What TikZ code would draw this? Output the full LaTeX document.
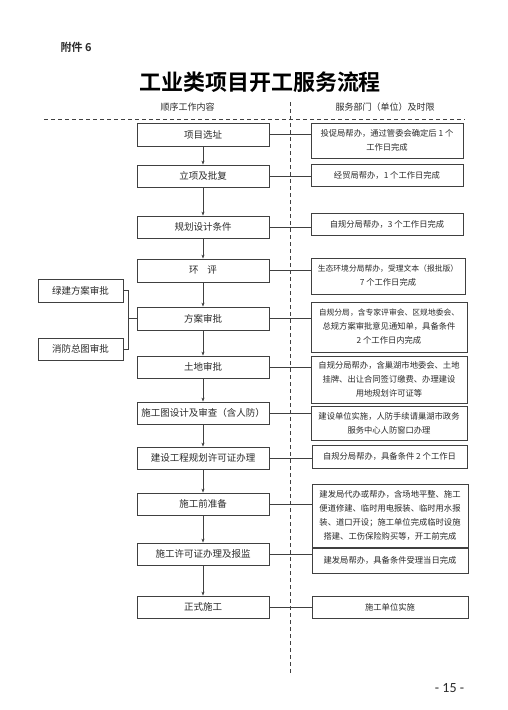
\documentclass[tikz,border=0pt]{standalone}
\usepackage{fontspec}
\newfontfamily\cjk{Noto Sans CJK SC}[BoldFont={Noto Sans CJK SC Bold}]
\setmainfont{Noto Sans CJK SC}
\newfontfamily\pnum{Carlito}
\usetikzlibrary{arrows.meta}
\definecolor{ink}{HTML}{2A2A2A}
\definecolor{edge}{HTML}{404040}
\tikzset{
  lbox/.style={draw=edge, line width=0.8pt, minimum width=132pt, minimum height=22pt, inner sep=0pt, text=ink, font=\cjk\fontsize{9.5}{11}\selectfont},
  sbox/.style={draw=edge, line width=0.8pt, minimum width=85pt, minimum height=22pt, inner sep=0pt, text=ink, font=\cjk\fontsize{9.5}{11}\selectfont},
  rbox/.style={draw=edge, line width=0.8pt, inner sep=0pt, align=center, text=ink, font=\cjk\fontsize{8.3}{14}\selectfont},
  conn/.style={draw=edge, line width=0.7pt},
  arr/.style={draw=edge, line width=0.7pt, -{Stealth[length=4pt,width=3pt]}},
  dash line/.style={draw=edge, line width=0.8pt, dash pattern=on 4pt off 3pt}
}
\begin{document}
\begin{tikzpicture}[x=1pt,y=-1pt]
\fill[white] (0,0) rectangle (508,710);
\useasboundingbox (0,0) rectangle (508,710);

% header
\node[text=ink, font=\cjk\bfseries\fontsize{11}{13}\selectfont, anchor=west] (att) at (57,47) {附件 6};
\node[text=black, font=\cjk\bfseries\fontsize{22}{26}\selectfont] (title) at (260,82) {工业类项目开工服务流程};
\node[text=ink, font=\cjk\fontsize{9}{11}\selectfont] (h1) at (187.5,107) {顺序工作内容};
\node[text=ink, font=\cjk\fontsize{9}{11}\selectfont] (h2) at (385,107) {服务部门（单位）及时限};
\coordinate (hl1) at (44,119);
\coordinate (hl2) at (465,119);
\coordinate (vl1) at (290,102);
\coordinate (vl2) at (290,674);
\draw[dash line] (hl1) -- (hl2);
\draw[dash line] (vl1) -- (vl2);

% left boxes
\node[lbox, minimum height=23pt] (L1) at (203,134.5) {项目选址};
\node[lbox] (L2) at (203,176) {立项及批复};
\node[lbox] (L3) at (203,227) {规划设计条件};
\node[lbox, minimum height=23pt] (L4) at (203,270.5) {环\hspace{0.9em}评};
\node[lbox, minimum height=23pt] (L5) at (203,318.5) {方案审批};
\node[lbox] (L6) at (203,367) {土地审批};
\node[lbox] (L7) at (203,413) {施工图设计及审查（含人防）};
\node[lbox] (L8) at (203,458) {建设工程规划许可证办理};
\node[lbox] (L9) at (203,504) {施工前准备};
\node[lbox] (L10) at (203,554) {施工许可证办理及报监};
\node[lbox] (L11) at (203,607) {正式施工};

% side boxes
\node[sbox, minimum height=23pt] (S1) at (80.5,290.5) {绿建方案审批};
\node[sbox] (S2) at (80.5,349) {消防总图审批};
\coordinate (jn) at (128,318.5);

% right boxes
\node[rbox, minimum width=152pt, minimum height=35pt] (R1) at (387,140.5) {投促局帮办，通过管委会确定后 1 个\\工作日完成};
\node[rbox, minimum width=152pt, minimum height=22pt] (R2) at (387,175) {经贸局帮办，1 个工作日完成};
\node[rbox, minimum width=152pt, minimum height=22pt] (R3) at (387,224) {自规分局帮办，3 个工作日完成};
\node[rbox, minimum width=154pt, minimum height=36pt] (R4) at (388,276) {{\fontsize{7.8}{14}\selectfont 生态环境分局帮办，受理文本（报批版）}\\7 个工作日完成};
\node[rbox, minimum width=156pt, minimum height=50pt] (R5) at (389,327) {{\fontsize{7.8}{14}\selectfont 自规分局，含专家评审会、区规地委会、}\\总规方案审批意见通知单，具备条件\\2 个工作日内完成};
\node[rbox, minimum width=156pt, minimum height=47pt] (R6) at (389,379.5) {自规分局帮办，含巢湖市地委会、土地\\挂牌、出让合同签订缴费、办理建设\\用地规划许可证等};
\node[rbox, minimum width=156pt, minimum height=34pt] (R7) at (389,423) {建设单位实施，人防手续请巢湖市政务\\服务中心人防窗口办理};
\node[rbox, minimum width=155pt, minimum height=23pt] (R8) at (389.5,456.5) {自规分局帮办，具备条件 2 个工作日};
\node[rbox, minimum width=156pt, minimum height=63pt] (R9) at (390,515.5) {建发局代办或帮办，含场地平整、施工\\便道修建、临时用电报装、临时用水报\\装、道口开设；施工单位完成临时设施\\搭建、工伤保险购买等，开工前完成};
\node[rbox, minimum width=156pt, minimum height=25pt] (R10) at (390,560.5) {建发局帮办，具备条件受理当日完成};
\node[rbox, minimum width=156pt, minimum height=22pt] (R11) at (390,607) {施工单位实施};

% arrows down
\draw[arr] (L1.south) -- (L2.north);
\draw[arr] (L2.south) -- (L3.north);
\draw[arr] (L3.south) -- (L4.north);
\draw[arr] (L4.south) -- (L5.north);
\draw[arr] (L5.south) -- (L6.north);
\draw[arr] (L6.south) -- (L7.north);
\draw[arr] (L7.south) -- (L8.north);
\draw[arr] (L8.south) -- (L9.north);
\draw[arr] (L9.south) -- (L10.north);
\draw[arr] (L10.south) -- (L11.north);

% connectors to right
\foreach \i in {1,...,11} {
  \draw[conn] (L\i.east) -- (L\i.east -| R\i.west);
}

% bracket
\draw[conn] (S1.east) -- (S1.east -| jn) -- (S2.east -| jn) -- (S2.east);
\draw[conn] (jn) -- (L5.west);

% page number
\node[text=ink, font=\pnum\fontsize{14}{16}\selectfont] (pg) at (449.5,688) {- 15 -};
\end{tikzpicture}
\end{document}
